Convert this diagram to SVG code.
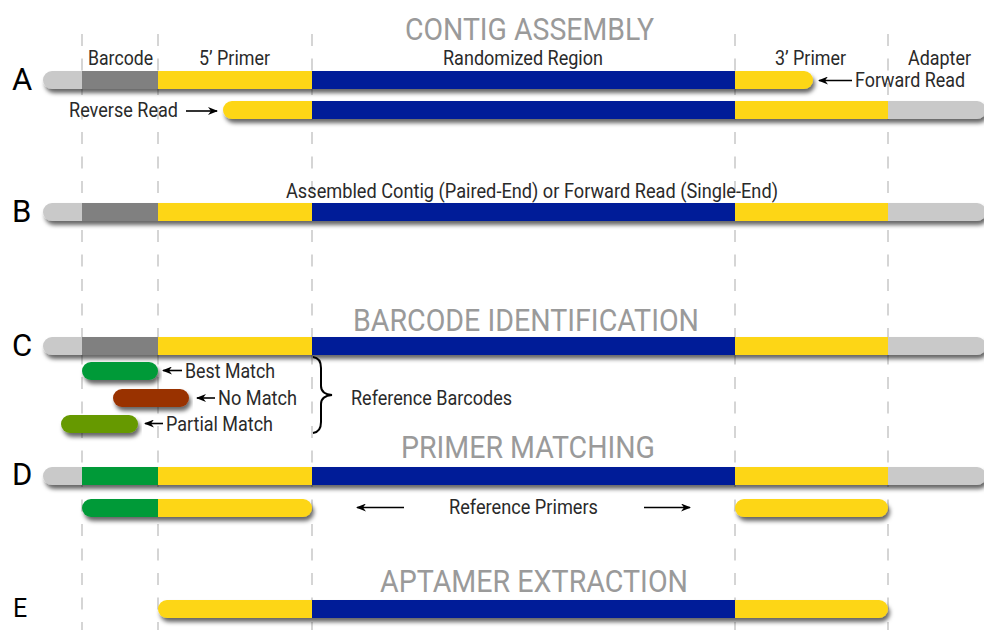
<svg xmlns="http://www.w3.org/2000/svg" width="984" height="630" viewBox="0 0 984 630">
<style>
.lbl{font-family:Roboto,"Liberation Sans",sans-serif;font-weight:400;font-size:20px;fill:#2a2a2a}
.ttl{font-family:Roboto,"Liberation Sans",sans-serif;font-weight:400;font-size:31px;fill:#9a9a9a}
.row{font-family:Roboto,"Liberation Sans",sans-serif;font-weight:400;font-size:31px;fill:#000}
.guide{stroke:#c8c8c8;stroke-width:1.5;stroke-dasharray:12 12.5}
.arr{stroke:#000;stroke-width:1.6;fill:none;marker-end:url(#ah)}
.lg{fill:#c9c9c9}.dg{fill:#808080}.ye{fill:#fdd614}.bl{fill:#021b98}.gr{fill:#009a37}.br{fill:#993300}.ol{fill:#669900}
</style>
<defs>
<filter id="sh" x="-5%" y="-50%" width="110%" height="250%">
<feDropShadow dx="2" dy="4" stdDeviation="2.2" flood-color="#000" flood-opacity="0.6"/>
</filter>
<marker id="ah" viewBox="0 0 10 8" refX="9" refY="4" markerWidth="10" markerHeight="8" markerUnits="userSpaceOnUse" orient="auto">
<path d="M0,0 L10,4 L0,8 L3,4 z" fill="#000"/>
</marker>
<clipPath id="cA"><rect x="43" y="71" width="770" height="18" rx="9"/></clipPath>
<clipPath id="cR"><rect x="223" y="101" width="763" height="18" rx="9"/></clipPath>
<clipPath id="cB"><rect x="43" y="203" width="943" height="18" rx="9"/></clipPath>
<clipPath id="cC"><rect x="43" y="337" width="943" height="18" rx="9"/></clipPath>
<clipPath id="cD"><rect x="43" y="467" width="943" height="18" rx="9"/></clipPath>
<clipPath id="cD2"><rect x="82" y="499" width="230" height="18" rx="9"/></clipPath>
<clipPath id="cE"><rect x="158" y="600" width="730" height="18" rx="9"/></clipPath>
</defs>
<rect width="984" height="630" fill="#fff"/>

<g id="guides">
<line class="guide" x1="82" y1="34" x2="82" y2="630"/>
<line class="guide" x1="158" y1="34" x2="158" y2="630"/>
<line class="guide" x1="312" y1="34" x2="312" y2="630"/>
<line class="guide" x1="735" y1="34" x2="735" y2="630"/>
<line class="guide" x1="888" y1="34" x2="888" y2="630"/>
</g>

<g id="titles">
<text class="ttl" x="405" y="40" textLength="249" lengthAdjust="spacingAndGlyphs">CONTIG ASSEMBLY</text>
<text class="ttl" x="353" y="331" textLength="346" lengthAdjust="spacingAndGlyphs">BARCODE IDENTIFICATION</text>
<text class="ttl" x="401" y="458" textLength="254" lengthAdjust="spacingAndGlyphs">PRIMER MATCHING</text>
<text class="ttl" x="380" y="592" textLength="308" lengthAdjust="spacingAndGlyphs">APTAMER EXTRACTION</text>
</g>

<g id="row-labels">
<text class="row" x="12" y="90">A</text>
<text class="row" x="12" y="222">B</text>
<text class="row" x="12" y="356">C</text>
<text class="row" x="12" y="485">D</text>
<text class="row" x="13" y="617" style="font-size:25px">E</text>
</g>

<g id="segment-labels">
<text class="lbl" x="88" y="65" textLength="65" lengthAdjust="spacingAndGlyphs">Barcode</text>
<text class="lbl" x="199" y="65" textLength="71" lengthAdjust="spacingAndGlyphs">5’ Primer</text>
<text class="lbl" x="443" y="65" textLength="160" lengthAdjust="spacingAndGlyphs">Randomized Region</text>
<text class="lbl" x="775" y="65" textLength="71" lengthAdjust="spacingAndGlyphs">3’ Primer</text>
<text class="lbl" x="908" y="65" textLength="63" lengthAdjust="spacingAndGlyphs">Adapter</text>
</g>

<g id="forward-read" filter="url(#sh)">
<g clip-path="url(#cA)">
<rect class="lg" x="43" y="71" width="39" height="18"/>
<rect class="dg" x="82" y="71" width="76" height="18"/>
<rect class="ye" x="158" y="71" width="154" height="18"/>
<rect class="bl" x="312" y="71" width="423" height="18"/>
<rect class="ye" x="735" y="71" width="78" height="18"/>
</g>
</g>
<text id="forward-read-label" class="lbl" x="855" y="87" textLength="110" lengthAdjust="spacingAndGlyphs">Forward Read</text>

<g id="reverse-read" filter="url(#sh)">
<g clip-path="url(#cR)">
<rect class="ye" x="223" y="101" width="89" height="18"/>
<rect class="bl" x="312" y="101" width="423" height="18"/>
<rect class="ye" x="735" y="101" width="153" height="18"/>
<rect class="lg" x="888" y="101" width="98" height="18"/>
</g>
</g>
<text id="reverse-read-label" class="lbl" x="69" y="117" textLength="109" lengthAdjust="spacingAndGlyphs">Reverse Read</text>

<g id="contig" filter="url(#sh)">
<g clip-path="url(#cB)">
<rect class="lg" x="43" y="203" width="39" height="18"/>
<rect class="dg" x="82" y="203" width="76" height="18"/>
<rect class="ye" x="158" y="203" width="154" height="18"/>
<rect class="bl" x="312" y="203" width="423" height="18"/>
<rect class="ye" x="735" y="203" width="153" height="18"/>
<rect class="lg" x="888" y="203" width="98" height="18"/>
</g>
</g>
<text id="contig-label" class="lbl" x="286" y="198" textLength="492" lengthAdjust="spacingAndGlyphs">Assembled Contig (Paired-End) or Forward Read (Single-End)</text>

<g id="barcode-read" filter="url(#sh)">
<g clip-path="url(#cC)">
<rect class="lg" x="43" y="337" width="39" height="18"/>
<rect class="dg" x="82" y="337" width="76" height="18"/>
<rect class="ye" x="158" y="337" width="154" height="18"/>
<rect class="bl" x="312" y="337" width="423" height="18"/>
<rect class="ye" x="735" y="337" width="153" height="18"/>
<rect class="lg" x="888" y="337" width="98" height="18"/>
</g>
</g>

<g id="best-match">
<rect class="gr" x="82" y="362" width="76" height="18" rx="9" filter="url(#sh)"/>
<text class="lbl" x="185" y="378" textLength="90" lengthAdjust="spacingAndGlyphs">Best Match</text>
</g>
<g id="no-match">
<rect class="br" x="113" y="389" width="76" height="18" rx="9" filter="url(#sh)"/>
<text class="lbl" x="218" y="405" textLength="79" lengthAdjust="spacingAndGlyphs">No Match</text>
</g>
<g id="partial-match">
<rect class="ol" x="61" y="415" width="77" height="18" rx="9" filter="url(#sh)"/>
<text class="lbl" x="166" y="431" textLength="107" lengthAdjust="spacingAndGlyphs">Partial Match</text>
</g>
<text id="reference-barcodes" class="lbl" x="351" y="405" textLength="161" lengthAdjust="spacingAndGlyphs">Reference Barcodes</text>

<g id="primer-read" filter="url(#sh)">
<g clip-path="url(#cD)">
<rect class="lg" x="43" y="467" width="39" height="18"/>
<rect class="gr" x="82" y="467" width="76" height="18"/>
<rect class="ye" x="158" y="467" width="154" height="18"/>
<rect class="bl" x="312" y="467" width="423" height="18"/>
<rect class="ye" x="735" y="467" width="153" height="18"/>
<rect class="lg" x="888" y="467" width="98" height="18"/>
</g>
</g>

<g id="ref-primer-5" filter="url(#sh)">
<g clip-path="url(#cD2)">
<rect class="gr" x="82" y="499" width="76" height="18"/>
<rect class="ye" x="158" y="499" width="154" height="18"/>
</g>
</g>
<g id="ref-primer-3">
<rect class="ye" x="735" y="499" width="153" height="18" rx="9" filter="url(#sh)"/>
</g>
<text id="reference-primers" class="lbl" x="449" y="514" textLength="149" lengthAdjust="spacingAndGlyphs">Reference Primers</text>

<g id="aptamer" filter="url(#sh)">
<g clip-path="url(#cE)">
<rect class="ye" x="158" y="600" width="154" height="18"/>
<rect class="bl" x="312" y="600" width="423" height="18"/>
<rect class="ye" x="735" y="600" width="153" height="18"/>
</g>
</g>

<g id="connectors">
<line class="arr" x1="852" y1="80.5" x2="819" y2="80.5"/>
<line class="arr" x1="186" y1="111" x2="217" y2="111"/>
<line class="arr" x1="182" y1="370.5" x2="163" y2="370.5"/>
<line class="arr" x1="215" y1="398" x2="197" y2="398"/>
<line class="arr" x1="163" y1="423.5" x2="145" y2="423.5"/>
<line class="arr" x1="404" y1="507.5" x2="357" y2="507.5"/>
<line class="arr" x1="644" y1="507.5" x2="690" y2="507.5"/>
<path d="M313,357 Q321,358 321,368 L321,386 Q321,394 332,395 Q321,396 321,404 L321,422 Q321,432 313,433" fill="none" stroke="#000" stroke-width="2"/>
</g>
</svg>
